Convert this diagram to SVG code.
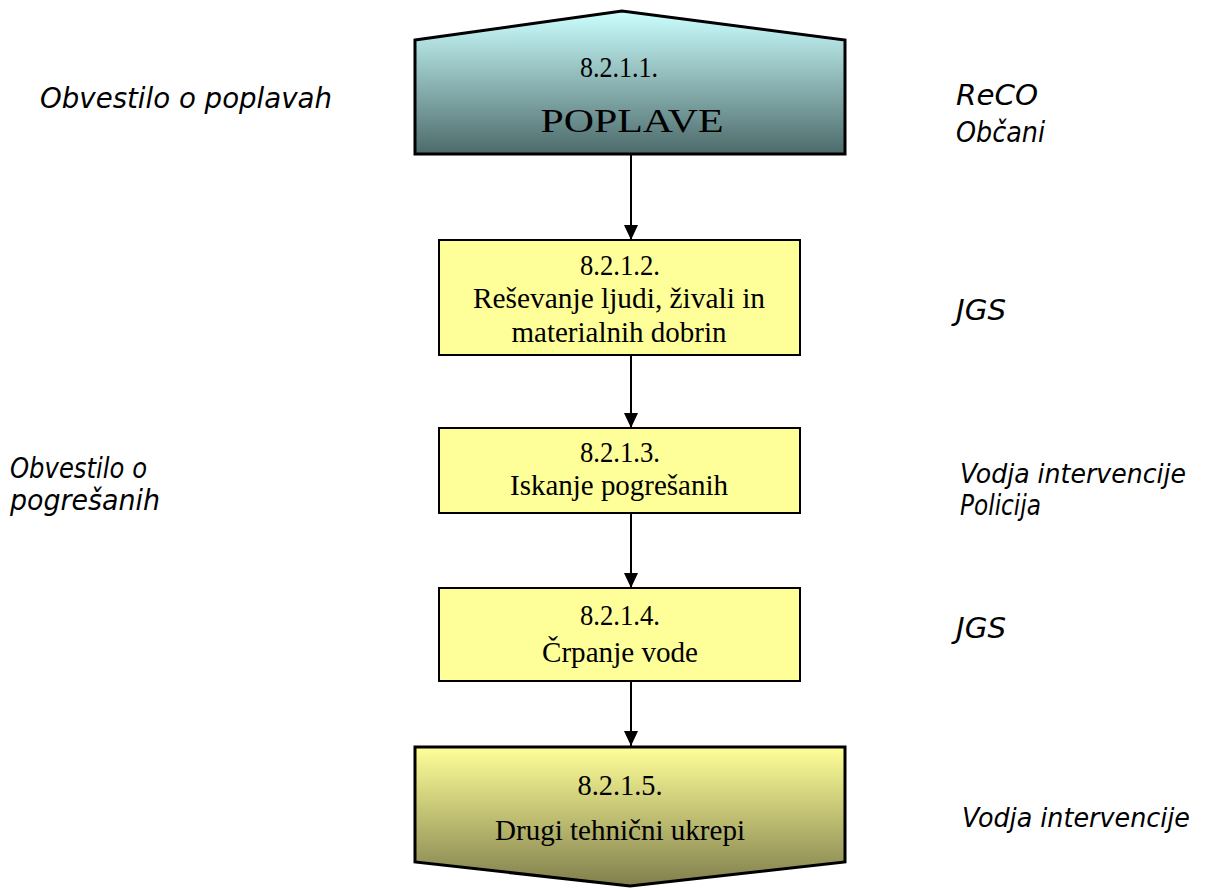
<svg xmlns="http://www.w3.org/2000/svg" width="1208" height="888" viewBox="0 0 1208 888">
<defs>
<linearGradient id="gTop" x1="0" y1="0" x2="0" y2="1"><stop offset="0" stop-color="#ccffff"/><stop offset="1" stop-color="#4d6a6a"/></linearGradient>
<linearGradient id="gBot" x1="0" y1="0" x2="0" y2="1"><stop offset="0" stop-color="#ffff99"/><stop offset="1" stop-color="#807f4d"/></linearGradient>
<marker id="arr" markerWidth="15" markerHeight="14" refX="15" refY="7" orient="auto" markerUnits="userSpaceOnUse" viewBox="0 0 15 14"><path d="M0,0 L15,7 L0,14 Z" fill="#000"/></marker>
</defs>
<style>
.box{fill:#ffff99;stroke:#000;stroke-width:2}
.t{font-family:"Liberation Serif","Times New Roman",serif;font-size:29px;fill:#000;text-anchor:middle}
.s{font-family:"DejaVu Sans",Verdana,sans-serif;font-style:italic;font-size:29px;fill:#000}
.c{stroke:#000;stroke-width:2;fill:none}
</style>
<rect width="1208" height="888" fill="#fff"/>
<g id="n1">
<path d="M415,40 L622,11 L845,40 L845,154 L415,154 Z" fill="url(#gTop)" stroke="#000" stroke-width="3"/>
<text class="t" x="619" y="77" textLength="78" lengthAdjust="spacingAndGlyphs">8.2.1.1.</text>
<text class="t" x="632" y="132" style="font-size:34px" textLength="183" lengthAdjust="spacingAndGlyphs">POPLAVE</text>
</g>
<g id="n2">
<rect class="box" x="439" y="240" width="361" height="115"/>
<text class="t" x="620" y="275" textLength="80" lengthAdjust="spacingAndGlyphs">8.2.1.2.</text>
<text class="t" x="619" y="308" textLength="292" lengthAdjust="spacingAndGlyphs">Reševanje ljudi, živali in</text>
<text class="t" x="619" y="342" textLength="215" lengthAdjust="spacingAndGlyphs">materialnih dobrin</text>
</g>
<g id="n3">
<rect class="box" x="439" y="428" width="361" height="85"/>
<text class="t" x="620" y="462" textLength="80" lengthAdjust="spacingAndGlyphs">8.2.1.3.</text>
<text class="t" x="619" y="495" textLength="218" lengthAdjust="spacingAndGlyphs">Iskanje pogrešanih</text>
</g>
<g id="n4">
<rect class="box" x="439" y="588" width="361" height="93"/>
<text class="t" x="620" y="625" textLength="80" lengthAdjust="spacingAndGlyphs">8.2.1.4.</text>
<text class="t" x="620" y="662" textLength="156" lengthAdjust="spacingAndGlyphs">Črpanje vode</text>
</g>
<g id="n5">
<path d="M415,747 L845,747 L845,862 L630,886 L415,862 Z" fill="url(#gBot)" stroke="#000" stroke-width="3"/>
<text class="t" x="620" y="795" style="font-size:30px" textLength="85" lengthAdjust="spacingAndGlyphs">8.2.1.5.</text>
<text class="t" x="620" y="840" style="font-size:30px" textLength="250" lengthAdjust="spacingAndGlyphs">Drugi tehnični ukrepi</text>
</g>
<g id="connectors">
<line class="c" x1="631" y1="155" x2="631" y2="240" marker-end="url(#arr)"/>
<line class="c" x1="631" y1="355" x2="631" y2="428" marker-end="url(#arr)"/>
<line class="c" x1="631" y1="513" x2="631" y2="588" marker-end="url(#arr)"/>
<line class="c" x1="631" y1="681" x2="631" y2="746" marker-end="url(#arr)"/>
</g>
<g id="labels">
<text class="s" x="40" y="108" textLength="292" lengthAdjust="spacingAndGlyphs">Obvestilo o poplavah</text>
<text class="s" x="956" y="105" textLength="82" lengthAdjust="spacingAndGlyphs">ReCO</text>
<text class="s" x="956" y="142" textLength="89" lengthAdjust="spacingAndGlyphs">Občani</text>
<text class="s" x="956" y="320" textLength="50" lengthAdjust="spacingAndGlyphs">JGS</text>
<text class="s" x="10" y="478" textLength="137" lengthAdjust="spacingAndGlyphs">Obvestilo o</text>
<text class="s" x="10" y="510" textLength="150" lengthAdjust="spacingAndGlyphs">pogrešanih</text>
<text class="s" x="960" y="483" style="font-size:26px" textLength="226" lengthAdjust="spacingAndGlyphs">Vodja intervencije</text>
<text class="s" x="960" y="515" textLength="81" lengthAdjust="spacingAndGlyphs">Policija</text>
<text class="s" x="956" y="638" textLength="50" lengthAdjust="spacingAndGlyphs">JGS</text>
<text class="s" x="962" y="827" style="font-size:26px" textLength="228" lengthAdjust="spacingAndGlyphs">Vodja intervencije</text>
</g>
</svg>
